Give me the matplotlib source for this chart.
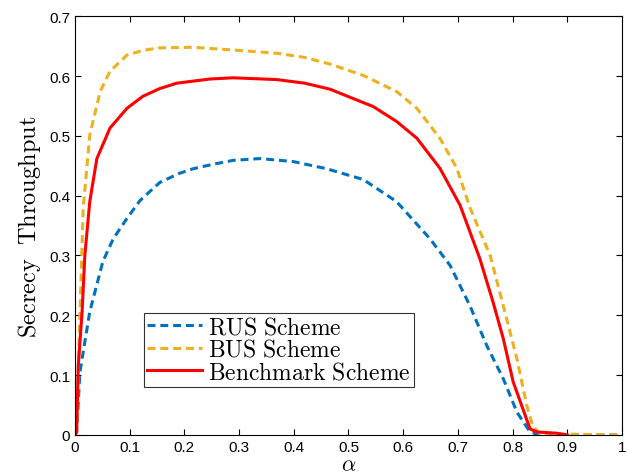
import numpy as np
import matplotlib
matplotlib.use("Agg")
import matplotlib.pyplot as plt

# values
rus_x = [0.0, 0.003, 0.009, 0.027, 0.051, 0.07, 0.095, 0.119, 0.155, 0.19, 0.216, 0.25, 0.289,
         0.338, 0.399, 0.46, 0.527, 0.588, 0.649, 0.686, 0.722, 0.753, 0.783, 0.808, 0.832,
         0.85, 1.0]
rus_y = [0.0, 0.005, 0.105, 0.206, 0.29, 0.328, 0.362, 0.392, 0.422, 0.437, 0.445, 0.452,
         0.459, 0.462, 0.457, 0.445, 0.427, 0.39, 0.328, 0.283, 0.216, 0.149, 0.094, 0.038,
         0.005, 0.0, 0.0]

bus_x = [0.0, 0.003, 0.006, 0.009, 0.015, 0.027, 0.046, 0.064, 0.095, 0.125, 0.155, 0.216,
         0.296, 0.369, 0.42, 0.466, 0.527, 0.588, 0.625, 0.667, 0.698, 0.722, 0.759, 0.783,
         0.808, 0.826, 0.837, 0.85, 1.0]
bus_y = [0.0, 0.005, 0.105, 0.2, 0.379, 0.501, 0.574, 0.608, 0.635, 0.643, 0.647, 0.648,
         0.643, 0.638, 0.631, 0.62, 0.601, 0.574, 0.546, 0.496, 0.446, 0.38, 0.3, 0.216,
         0.127, 0.049, 0.015, 0.002, 0.0]

ben_x = [0.0, 0.003, 0.006, 0.013, 0.018, 0.027, 0.04, 0.064, 0.095, 0.124, 0.155, 0.186,
         0.247, 0.289, 0.369, 0.42, 0.466, 0.545, 0.588, 0.625, 0.667, 0.704, 0.74, 0.764,
         0.783, 0.801, 0.832, 0.845, 0.88, 0.9]
ben_y = [0.0, 0.005, 0.116, 0.206, 0.3, 0.39, 0.462, 0.513, 0.546, 0.566, 0.579, 0.588,
         0.595, 0.597, 0.594, 0.588, 0.578, 0.549, 0.524, 0.496, 0.446, 0.384, 0.295, 0.223,
         0.161, 0.089, 0.01, 0.005, 0.003, 0.0]

labels = ["RUS Scheme", "BUS Scheme", "Benchmark Scheme"]

plt.rcParams["mathtext.fontset"] = "cm"
plt.rcParams["font.family"] = "Liberation Sans"

fig = plt.figure(figsize=(6.27, 4.77), dpi=100)
ax = fig.add_axes([0.1196, 0.086, 0.8724, 0.878])

dash = (2.6, 1.6)
ax.plot(rus_x, rus_y, color="#0072BD", lw=2.2, dashes=dash, label=r"$\mathrm{RUS\ Scheme}$")
ax.plot(bus_x, bus_y, color="#EDB120", lw=2.2, dashes=dash, label=r"$\mathrm{BUS\ Scheme}$")
ax.plot(ben_x, ben_y, color="#FF0000", lw=2.2, label=r"$\mathrm{Benchmark\ Scheme}$")

ax.set_xlim(0, 1)
ax.set_ylim(0, 0.7)
ax.set_xticks(np.arange(0, 1.01, 0.1))
ax.set_xticklabels(["0", "0.1", "0.2", "0.3", "0.4", "0.5", "0.6", "0.7", "0.8", "0.9", "1"])
ax.set_yticks(np.arange(0, 0.71, 0.1))
ax.set_yticklabels(["0", "0.1", "0.2", "0.3", "0.4", "0.5", "0.6", "0.7"])
ax.tick_params(direction="in", top=True, right=True, length=4, labelsize=11, width=0.8)
for s in ax.spines.values():
    s.set_linewidth(0.8)

ax.set_xlabel(r"$\alpha$", fontsize=16, labelpad=0)
ax.set_ylabel(r"$\mathrm{Secrecy\ \ Throughput}$", fontsize=17.5, labelpad=4)

leg = ax.legend(loc="lower left", bbox_to_anchor=(0.126, 0.115), fontsize=17,
                frameon=True, fancybox=False, edgecolor="black", handlelength=2.3,
                borderpad=0.15, labelspacing=0.02, handletextpad=0.25, borderaxespad=0)
leg.get_frame().set_linewidth(0.8)

fig.savefig("out.png", dpi=100)
